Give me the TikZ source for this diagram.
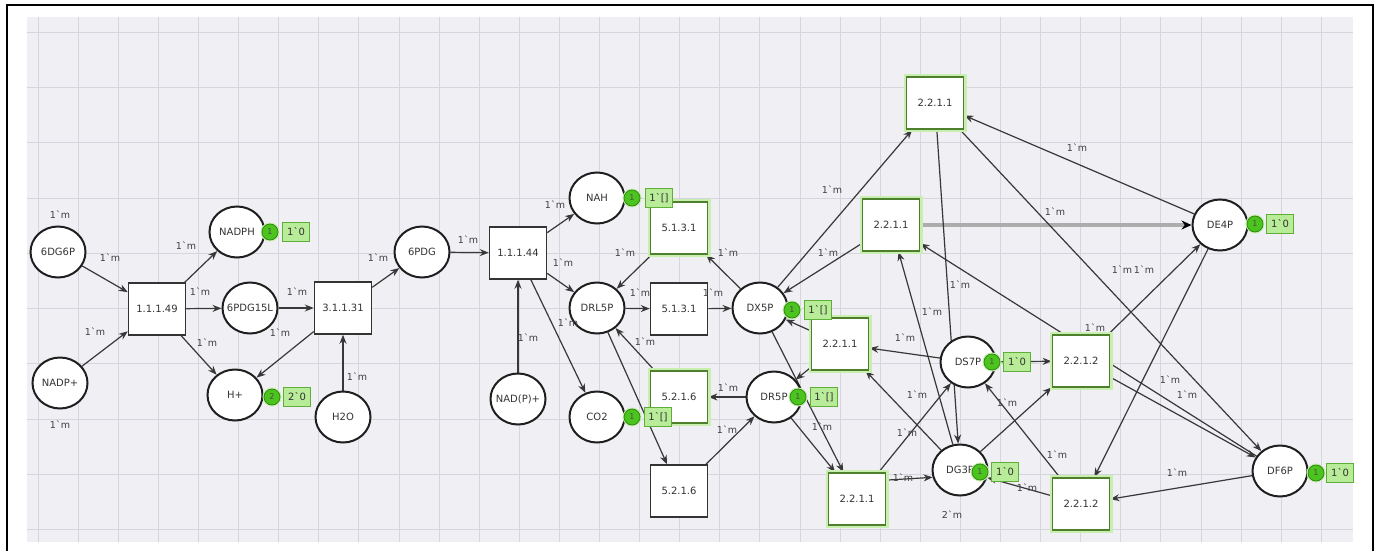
\documentclass[tikz,border=0pt]{standalone}
\usepackage{fontspec}
\newfontfamily\dv{DejaVu Sans}
\usetikzlibrary{arrows.meta,calc,shapes.geometric}
\definecolor{gridbg}{HTML}{EFEFF4}
\definecolor{gridln}{HTML}{D5D5DE}
\definecolor{tokgreen}{HTML}{4CC41E}
\definecolor{tokdark}{HTML}{2E8A10}
\definecolor{boxgreen}{HTML}{B8EC98}
\definecolor{boxedge}{HTML}{5FAE3A}
\definecolor{transgreen}{HTML}{4E7F2C}
\definecolor{halo}{HTML}{C8EEB0}
\pgfdeclarelayer{bg}
\pgfsetlayers{bg,main}
\begin{document}
\begin{tikzpicture}[x=1pt,y=-1pt,
  every node/.style={font=\dv\fontsize{10}{12}\selectfont, text=black!80},
  place/.style={ellipse, draw=black!88, line width=2pt, fill=white,
    minimum width=55pt, minimum height=51pt, inner sep=-8pt},
  trans/.style={rectangle, draw=black!80, line width=1.5pt, fill=white,
    minimum width=57pt, minimum height=52pt, inner sep=0pt},
  gtrans/.style={trans, draw=transgreen, line width=1.8pt, preaction={draw=halo, line width=6pt}},
  arc/.style={draw=black!78, line width=1.2pt, -{Stealth[length=9pt,width=7pt]}},
  heavy/.style={draw=black!32, line width=3.5pt, -{Stealth[length=10pt,width=9pt,color=black]}},
  lab/.style={font=\dv\fontsize{9.5}{11}\selectfont, text=black!75, inner sep=0pt},
  tokc/.style={circle, fill=tokgreen, draw=tokdark, line width=0.8pt, minimum size=16pt,
    inner sep=0pt, font=\dv\fontsize{8}{9}\selectfont, text=black!70,
    preaction={draw=halo, line width=3pt}},
  tokb/.style={rectangle, fill=boxgreen, draw=boxedge, line width=1pt, minimum width=27pt,
    minimum height=19pt, inner sep=1pt, anchor=west}
]
\useasboundingbox (0,0) rectangle (1380,551);

% canvas and grid
\begin{pgfonlayer}{bg}
\fill[white] (0,0) rectangle (1380,551);
\fill[gridbg] (27,17) rectangle (1353,542);
\foreach \i in {0,...,32} \draw[gridln, line width=0.8pt] ({38+40.1*\i},17) -- ({38+40.1*\i},542);
\foreach \j in {0,...,9} \draw[gridln, line width=0.8pt] (27,{32+55.3*\j}) -- (1353,{32+55.3*\j});
\end{pgfonlayer}
\draw[line width=2pt] (7,551) -- (7,5) -- (1373,5) -- (1373,551);

% places
\node[place] (p6dg6p) at (58,252) {6DG6P};
\node[place] (nadph) at (237,232) {NADPH};
\node[place] (pgdl) at (250,308) {6PDG15L};
\node[place] (p6pdg) at (422,252) {6PDG};
\node[place] (nadpp) at (60,383) {NADP+};
\node[place] (hplus) at (235,395) {H+};
\node[place] (h2o) at (343,417) {H2O};
\node[place] (nah) at (597,198) {NAH};
\node[place] (drl5p) at (597,308) {DRL5P};
\node[place] (dx5p) at (760,308) {DX5P};
\node[place] (nadp2) at (518,399) {NAD(P)+};
\node[place] (co2) at (597,417) {CO2};
\node[place] (dr5p) at (774,397) {DR5P};
\node[place] (de4p) at (1220,225) {DE4P};
\node[place] (ds7p) at (968,362) {DS7P};
\node[place] (dg3p) at (960,470) {DG3P};
\node[place] (df6p) at (1280,471) {DF6P};

% transitions
\node[trans] (t11149) at (157,309) {1.1.1.49};
\node[trans] (t31131) at (343,308) {3.1.1.31};
\node[trans] (t11144) at (518,253) {1.1.1.44};
\node[gtrans] (t5131a) at (679,228) {5.1.3.1};
\node[trans] (t5131b) at (679,309) {5.1.3.1};
\node[gtrans] (t5216a) at (679,397) {5.2.1.6};
\node[trans] (t5216b) at (679,491) {5.2.1.6};
\node[gtrans] (t2211a) at (935,103) {2.2.1.1};
\node[gtrans] (t2211b) at (891,225) {2.2.1.1};
\node[gtrans] (t2211c) at (840,344) {2.2.1.1};
\node[gtrans] (t2211d) at (857,499) {2.2.1.1};
\node[gtrans] (t2212a) at (1081,361) {2.2.1.2};
\node[gtrans] (t2212b) at (1081,504) {2.2.1.2};

% arcs
\begin{pgfonlayer}{bg}
\draw[arc] (p6dg6p) -- (t11149);
\draw[arc] (nadpp) -- (t11149);
\draw[arc] (t11149) -- (nadph);
\draw[arc] (t11149) -- (pgdl);
\draw[arc] (t11149) -- (hplus);
\draw[arc] (pgdl) -- (t31131);
\draw[arc] (t31131) -- (hplus);
\draw[arc] (h2o) -- (t31131);
\draw[arc] (t31131) -- (p6pdg);
\draw[arc] (p6pdg) -- (t11144);
\draw[arc] (nadp2) -- (t11144);
\draw[arc] (t11144) -- (nah);
\draw[arc] (t11144) -- (drl5p);
\draw[arc] (t11144) -- (co2);
\draw[arc] (t5131a) -- (drl5p);
\draw[arc] (dx5p) -- (t5131a);
\draw[arc] (drl5p) -- (t5131b);
\draw[arc] (t5131b) -- (dx5p);
\draw[arc] (t5216a) -- (drl5p);
\draw[arc] (drl5p) -- (t5216b);
\draw[arc] (dr5p) -- (t5216a);
\draw[arc] (t5216b) -- (dr5p);
\draw[arc] (dx5p) -- (t2211a);
\draw[arc] (t2211b) -- (dx5p);
\draw[heavy] (t2211b) -- (de4p);
\draw[arc] (de4p) -- (t2211a);
\draw[arc] (t2211a) -- (df6p);
\draw[arc] (t2211a) -- (dg3p);
\draw[arc] (dg3p) -- (t2211b);
\draw[arc] (df6p) -- (t2211b);
\draw[arc] (t2211c) -- (dx5p);
\draw[arc] (t2211c) -- (dr5p);
\draw[arc] (ds7p) -- (t2211c);
\draw[arc] (dx5p) -- (t2211d);
\draw[arc] (dr5p) -- (t2211d);
\draw[arc] ($(t2211d.north east)+(0,8)$) -- (dg3p.195);
\draw[arc] (t2211d) -- (ds7p);
\draw[arc] (dg3p) -- (t2211c);
\draw[arc] (ds7p) -- (t2212a);
\draw[arc] (dg3p) -- (t2212a);
\draw[arc] (t2212b) -- (ds7p);
\draw[arc] (t2212b) -- (dg3p);
\draw[arc] (df6p) -- (t2212b);
\draw[arc] (de4p) -- (t2212b);
\draw[arc] (t2212a) -- (de4p);
\draw[arc] (t2212a) -- (df6p);
\end{pgfonlayer}

% markings
\node[tokc] (nadph-c) at (270,232) {1};
\node[tokb] (nadph-b) at (282,232) {1`0};
\node[tokc] (hplus-c) at (272,397) {2};
\node[tokb] (hplus-b) at (283,397) {2`0};
\node[tokc] (nah-c) at (632,198) {1};
\node[tokb] (nah-b) at (645,198) {1`[]};
\node[tokc] (co2-c) at (632,417) {1};
\node[tokb] (co2-b) at (644,417) {1`[]};
\node[tokc] (dx5p-c) at (792,310) {1};
\node[tokb] (dx5p-b) at (804,310) {1`[]};
\node[tokc] (dr5p-c) at (798,397) {1};
\node[tokb] (dr5p-b) at (810,397) {1`[]};
\node[tokc] (ds7p-c) at (992,362) {1};
\node[tokb] (ds7p-b) at (1003,362) {1`0};
\node[tokc] (dg3p-c) at (980,472) {1};
\node[tokb] (dg3p-b) at (991,472) {1`0};
\node[tokc] (de4p-c) at (1255,224) {1};
\node[tokb] (de4p-b) at (1266,224) {1`0};
\node[tokc] (df6p-c) at (1316,473) {1};
\node[tokb] (df6p-b) at (1326,473) {1`0};

% arc inscriptions
\node[lab] (la1) at (60,215) {1`m};
\node[lab] (la2) at (60,425) {1`m};
\node[lab] (la3) at (110,258) {1`m};
\node[lab] (la4) at (95,332) {1`m};
\node[lab] (la5) at (186,246) {1`m};
\node[lab] (la6) at (200,292) {1`m};
\node[lab] (la7) at (207,343) {1`m};
\node[lab] (la8) at (297,292) {1`m};
\node[lab] (la9) at (280,333) {1`m};
\node[lab] (la10) at (357,377) {1`m};
\node[lab] (la11) at (378,258) {1`m};
\node[lab] (la12) at (468,240) {1`m};
\node[lab] (la13) at (528,338) {1`m};
\node[lab] (la14) at (555,205) {1`m};
\node[lab] (la15) at (563,263) {1`m};
\node[lab] (la16) at (568,323) {1`m};
\node[lab] (la17) at (625,253) {1`m};
\node[lab] (la18) at (728,253) {1`m};
\node[lab] (la19) at (640,293) {1`m};
\node[lab] (la20) at (713,293) {1`m};
\node[lab] (la21) at (645,342) {1`m};
\node[lab] (la22) at (728,388) {1`m};
\node[lab] (la23) at (727,430) {1`m};
\node[lab] (la24) at (832,190) {1`m};
\node[lab] (la25) at (828,253) {1`m};
\node[lab] (la26) at (1077,148) {1`m};
\node[lab] (la27) at (1055,212) {1`m};
\node[lab] (la28) at (960,285) {1`m};
\node[lab] (la29) at (932,312) {1`m};
\node[lab] (la30) at (1095,328) {1`m};
\node[lab] (la31) at (905,338) {1`m};
\node[lab] (la32) at (822,427) {1`m};
\node[lab] (la33) at (903,478) {1`m};
\node[lab] (la34) at (907,433) {1`m};
\node[lab] (la35) at (917,395) {1`m};
\node[lab] (la36) at (1007,403) {1`m};
\node[lab] (la37) at (1057,455) {1`m};
\node[lab] (la38) at (1027,488) {1`m};
\node[lab] (la39) at (1177,473) {1`m};
\node[lab] (la40) at (1122,270) {1`m};
\node[lab] (la41) at (1144,270) {1`m};
\node[lab] (la42) at (1170,380) {1`m};
\node[lab] (la43) at (1187,395) {1`m};
\node[lab] (la44) at (952,515) {2`m};
\end{tikzpicture}
\end{document}
